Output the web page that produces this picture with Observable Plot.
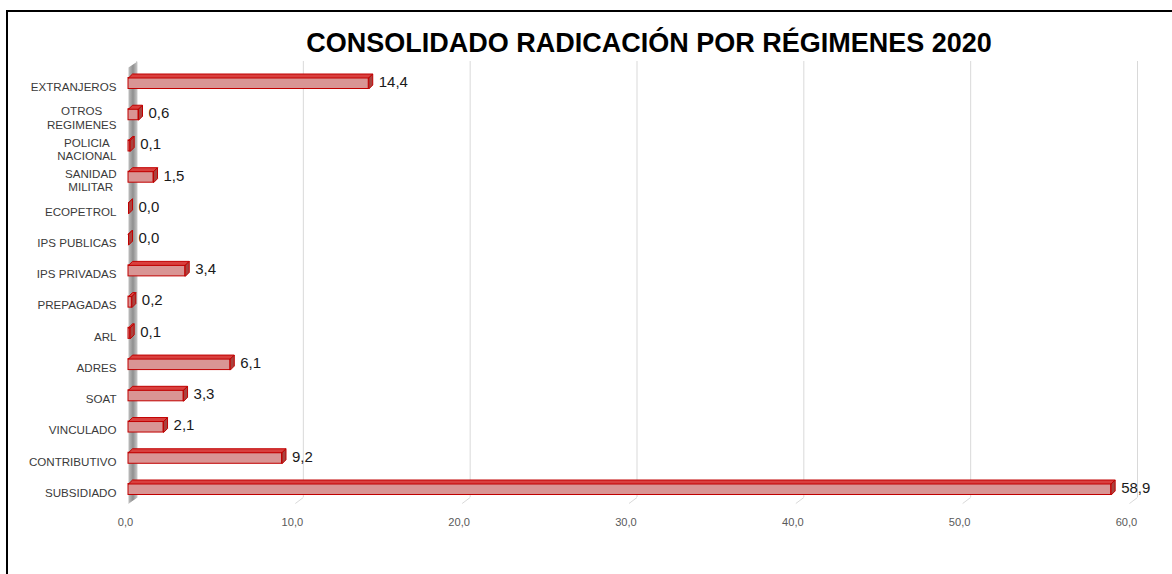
<!DOCTYPE html>
<html><head><meta charset="utf-8">
<script src="https://cdn.jsdelivr.net/npm/d3@7"></script>
<script src="https://cdn.jsdelivr.net/npm/@observablehq/plot@0.6"></script>
<style>
body{margin:0;background:#fff;}
#wrap{position:relative;width:1172px;height:574px;overflow:hidden;font-family:"Liberation Sans",Arial,sans-serif;}
#frame{position:absolute;left:6px;top:10px;right:-10px;bottom:-10px;border-top:2px solid #000;border-left:2px solid #000;pointer-events:none;}
#title{height:34px;padding-top:26px;line-height:34px;font-size:27px;font-weight:bold;text-align:center;padding-left:126px;color:#000;white-space:nowrap;}
#chart svg{display:block;}
</style></head><body>
<div id="wrap"><div id="frame"></div><div id="title"></div><div id="chart"></div></div>
<script>
const title = "CONSOLIDADO RADICACIÓN POR RÉGIMENES 2020";
const categories = ["EXTRANJEROS","OTROS\nREGIMENES","POLICIA\nNACIONAL","SANIDAD\nMILITAR","ECOPETROL","IPS PUBLICAS","IPS PRIVADAS","PREPAGADAS","ARL","ADRES","SOAT","VINCULADO","CONTRIBUTIVO","SUBSIDIADO"];
const values = [14.4,0.6,0.1,1.5,0.0,0.0,3.4,0.2,0.1,6.1,3.3,2.1,9.2,58.9];
const xTicks = [0,10,20,30,40,50,60];

document.getElementById("title").textContent = title;

const W = 1172, H = 514;
const X_RANGE = [128, 1129], Y_RANGE = [23, 429];
const X_DOMAIN = [0, 60], Y_DOMAIN = [0, categories.length - 1];
const MT = 7, MB = 71;
const ys = Plot.scale({y: {domain: Y_DOMAIN, range: Y_RANGE}});
const kx = (X_RANGE[1] - X_RANGE[0]) / (X_DOMAIN[1] - X_DOMAIN[0]);
const ky = (Y_RANGE[1] - Y_RANGE[0]) / (Y_DOMAIN[1] - Y_DOMAIN[0]);
const px = d => d / kx, py = d => d / ky;

const fmt = v => d3.format(".1f")(v).replace(".", ",");
const data = categories.map((c, i) => ({c, i, v: values[i]}));

// bar 3D geometry
const halfH = py(5.5), bdx = px(4), bdy = py(4);
const poly = (id, pts) => pts.map(([x, y]) => ({id, x, y}));
const topFaces = data.flatMap(d => {
  const y0 = d.i - halfH;
  return poly(d.i, [[0, y0], [d.v, y0], [d.v + bdx, y0 - bdy], [bdx, y0 - bdy], [0, y0]]);
});
const sideFaces = data.flatMap(d => {
  const y0 = d.i - halfH, y1 = d.i + halfH;
  return poly(d.i, [[d.v, y0], [d.v + bdx, y0 - bdy], [d.v + bdx, y1 - bdy], [d.v, y1], [d.v, y0]]);
});

// wall & floor
const wdx = px(9), wdy = py(6);
const wTop = ys.invert(MT), wBot = ys.invert(H - MB);
const wall = poly(0, [[0, wTop], [0, wBot], [wdx, wBot - wdy], [wdx, wTop - wdy], [0, wTop]]);
const floorLinks = xTicks.map(t => ({x1: t, y1: wBot, x2: t + px(8), y2: wBot - wdy}));

// label measuring
const ctx = document.createElement("canvas").getContext("2d");
const LBL_FS = 11.6;
ctx.font = `${LBL_FS}px "Liberation Sans", Arial, sans-serif`;
const labelMarks = data.map(d => {
  const w = Math.max(...d.c.split("\n").map(s => ctx.measureText(s).width));
  return Plot.text([d], {
    x: () => 0, y: "i", text: "c",
    textAnchor: "middle", lineAnchor: "middle", lineHeight: 1.15,
    dx: -(12 + w / 2), dy: 3,
    fontSize: LBL_FS, fill: "#3a3a3a"
  });
});

const chart = Plot.plot({
  width: W, height: H,
  marginLeft: X_RANGE[0], marginRight: W - X_RANGE[1], marginTop: MT, marginBottom: MB,
  style: {fontFamily: '"Liberation Sans", Arial, sans-serif', background: "transparent", overflow: "visible"},
  x: {domain: X_DOMAIN, range: X_RANGE, axis: null},
  y: {domain: Y_DOMAIN, range: Y_RANGE, axis: null},
  marks: [
    Plot.ruleX(xTicks, {x: d => d, dx: 8, dy: -6, stroke: "#d9d9d9", strokeWidth: 1}),
    Plot.link(floorLinks, {x1: "x1", y1: "y1", x2: "x2", y2: "y2", stroke: "#d9d9d9", strokeWidth: 1}),
    Plot.line(wall, {x: "x", y: "y", z: "id", fill: "url(#wallGrad)", stroke: "none"}),
    Plot.rect(data, {x1: () => 0, x2: "v", y1: d => d.i - halfH, y2: d => d.i + halfH, fill: "#d99594", stroke: "#c00000", strokeWidth: 1}),
    Plot.line(topFaces, {x: "x", y: "y", z: "id", fill: "#d9403e", stroke: "#c00000", strokeWidth: 1, strokeLinejoin: "round"}),
    Plot.line(sideFaces, {x: "x", y: "y", z: "id", fill: "#a8433f", stroke: "#c00000", strokeWidth: 1, strokeLinejoin: "round"}),
    Plot.text(data, {x: "v", y: "i", text: d => fmt(d.v), dx: 10, dy: -1.5, textAnchor: "start", lineAnchor: "middle", fontSize: 15, fill: "#1a1a1a"}),
    Plot.text(xTicks, {x: d => d, frameAnchor: "bottom", text: d => fmt(d), dx: -3, dy: 18.5, lineAnchor: "middle", textAnchor: "middle", fontSize: 11.1, fill: "#595959"}),
    ...labelMarks
  ]
});

const svg = chart.tagName.toLowerCase() === "svg" ? chart : chart.querySelector("svg");
const defs = d3.select(svg).insert("defs", ":first-child");
const g = defs.append("linearGradient").attr("id", "wallGrad").attr("x1", "0").attr("x2", "1").attr("y1", "0").attr("y2", "0");
g.append("stop").attr("offset", "0%").attr("stop-color", "#bdbdbd");
g.append("stop").attr("offset", "50%").attr("stop-color", "#8f8f8f");
g.append("stop").attr("offset", "100%").attr("stop-color", "#cccccc");
document.getElementById("chart").appendChild(chart);
</script>
</body></html>
